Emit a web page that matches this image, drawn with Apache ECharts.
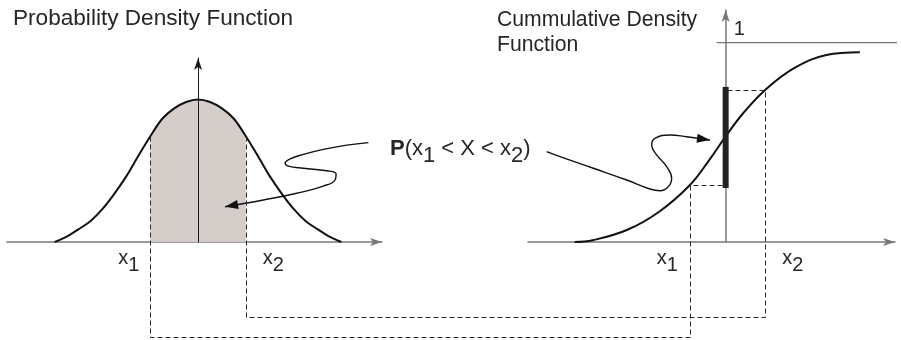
<!DOCTYPE html>
<html><head><meta charset="utf-8">
<script src="https://cdn.jsdelivr.net/npm/echarts@6/dist/echarts.min.js"></script>
<style>html,body{margin:0;padding:0;background:#fff}#c{width:901px;height:340px}</style>
</head><body><div id="c"></div>
<script>
// ---- data ----
// Probability density curve, standardised x units
const pdfX = [-3,-2.75,-2.5,-2.25,-2,-1.75,-1.5,-1.25,-1,-0.75,-0.5,-0.25,0,0.25,0.5,0.75,1,1.25,1.5,1.75,2,2.25,2.5,2.75,3];
const pdfY = [0,0.015,0.036,0.059,0.093,0.136,0.185,0.242,0.297,0.346,0.375,0.393,0.400,0.393,0.375,0.346,0.297,0.242,0.185,0.136,0.093,0.059,0.036,0.015,0];
const pdfBounds = [-1, 1];            // x1, x2 on the PDF
// Cumulative curve
const cdfX = [-3.97,-3.5,-2.6,-1.75,-0.94,-0.4,0,0.46,1.04,1.8,2.65,3.53];
const cdfY = [0,0.009,0.06,0.152,0.286,0.42,0.53,0.646,0.763,0.872,0.938,0.952];
const cdfBounds = [-0.94, 1.04];      // x1, x2 on the CDF
const cdfLimit = 1;
// Curly annotation arrows (in each panel's data units)
const arrowPdfX = [3.565,3.113,2.623,2.204,1.926,1.821,1.890,2.204,2.694,2.889,2.868,2.623,2.066,1.367,0.565];
const arrowPdfY = [0.279,0.272,0.260,0.246,0.233,0.221,0.213,0.207,0.200,0.191,0.174,0.157,0.137,0.118,0.099];
const arrowCdfX = [-4.709,-4.359,-3.483,-2.604,-1.992,-1.728,-1.510,-1.421,-1.552,-1.815,-1.947,-1.860,-1.465,-1.026,-0.413];
const arrowCdfY = [0.453,0.428,0.370,0.311,0.266,0.257,0.277,0.320,0.378,0.437,0.487,0.520,0.537,0.528,0.512];
// Texts
const titlePdf = 'Probability Density Function';
const titleCdf = ['Cummulative Density', 'Function'];
const probText = '{b|P}{n|(x}{s|1}{n| < X < x}{s|2}{n|)}';

// ---- build ----
const FONT = '"Liberation Sans", Arial, Helvetica, sans-serif';
const TXT = '#262626';
const zip = (xs, ys) => xs.map((x, i) => [x, ys[i]]);
const pdfData = zip(pdfX, pdfY);
const shadeData = pdfData.filter(p => p[0] >= pdfBounds[0] && p[0] <= pdfBounds[1]);
const cdfData = zip(cdfX, cdfY);
const pdfAt = x => pdfY[pdfX.indexOf(x)];
const cdfAt = x => cdfY[cdfX.indexOf(x)];

const axisLine = (color, width) => ({
  show: true, onZero: true, symbol: ['none', 'arrow'], symbolSize: [6, 12],
  lineStyle: { color: color, width: width }
});
const bare = { axisTick: { show: false }, axisLabel: { show: false }, splitLine: { show: false } };

const option = {
  animation: false,
  backgroundColor: '#fff',
  grid: [
    { left: 7, top: 58, width: 375, height: 184 },
    { left: 528, top: 10, width: 367, height: 232 }
  ],
  xAxis: [
    Object.assign({ type: 'value', gridIndex: 0, min: -4, max: 3.85, axisLine: axisLine('#777', 1.5) }, bare),
    Object.assign({ type: 'value', gridIndex: 1, min: -5.2, max: 4.455, axisLine: axisLine('#777', 1.5) }, bare)
  ],
  yAxis: [
    Object.assign({ type: 'value', gridIndex: 0, min: 0, max: 0.5165, z: 4, axisLine: axisLine('#1a1a1a', 1) }, bare),
    Object.assign({ type: 'value', gridIndex: 1, min: 0, max: 1.164, axisLine: axisLine('#777', 1.5) }, bare)
  ],
  series: [
    { type: 'line', xAxisIndex: 0, yAxisIndex: 0, data: shadeData, smooth: 0.3, symbol: 'none', z: 1,
      lineStyle: { width: 0 }, areaStyle: { color: '#d4cdca', opacity: 1 } },
    { type: 'line', xAxisIndex: 0, yAxisIndex: 0, data: pdfData, smooth: 0.3, symbol: 'none', z: 5,
      lineStyle: { color: '#111', width: 2 } },
    { type: 'line', xAxisIndex: 1, yAxisIndex: 1, data: cdfData, smooth: 0.4, symbol: 'none', z: 5,
      lineStyle: { color: '#111', width: 2 } },
    { type: 'line', xAxisIndex: 1, yAxisIndex: 1, data: [[-0.237, cdfLimit], [4.62, cdfLimit]], symbol: 'none', clip: false,
      lineStyle: { color: '#777', width: 1.3 } },
    { type: 'line', xAxisIndex: 1, yAxisIndex: 1, data: [[0, cdfAt(cdfBounds[0])], [0, cdfAt(cdfBounds[1])]], symbol: 'none', z: 6,
      lineStyle: { color: '#222', width: 6, cap: 'square' } },
    { type: 'line', xAxisIndex: 0, yAxisIndex: 0, data: zip(arrowPdfX, arrowPdfY), smooth: 0.45, symbol: 'none', clip: false, z: 7,
      lineStyle: { color: '#111', width: 1.4 } },
    { type: 'line', xAxisIndex: 1, yAxisIndex: 1, data: zip(arrowCdfX, arrowCdfY), smooth: 0.45, symbol: 'none', clip: false, z: 7,
      lineStyle: { color: '#111', width: 1.4 } }
  ]
};

const chart = echarts.init(document.getElementById('c'));
chart.setOption(option);

const toA = p => chart.convertToPixel({ gridIndex: 0 }, p);
const toB = p => chart.convertToPixel({ gridIndex: 1 }, p);
const crisp = p => [Math.round(p[0]) + 0.5, Math.round(p[1]) + 0.5];

const lowY1 = 337, lowY2 = 317;
const a1 = toA([pdfBounds[0], pdfAt(pdfBounds[0])]);
const a2 = toA([pdfBounds[1], pdfAt(pdfBounds[1])]);
const b1 = toB([cdfBounds[0], cdfAt(cdfBounds[0])]);
const b2 = toB([cdfBounds[1], cdfAt(cdfBounds[1])]);
const bar1 = toB([0, cdfAt(cdfBounds[0])]);
const bar2 = toB([0, cdfAt(cdfBounds[1])]);

const dashStyle = { stroke: '#2a2a2a', lineWidth: 1, lineDash: [5, 3], fill: null };
const connectors = [
  { type: 'polyline', z: 10, shape: { points: [a1, [a1[0], lowY1], [b1[0], lowY1], b1, bar1].map(crisp) }, style: dashStyle },
  { type: 'polyline', z: 10, shape: { points: [a2, [a2[0], lowY2], [b2[0], lowY2], b2, bar2].map(crisp) }, style: dashStyle }
];

function head(tip, prev) {
  const dx = tip[0] - prev[0], dy = tip[1] - prev[1];
  const len = Math.hypot(dx, dy);
  const ux = dx / len, uy = dy / len;
  const L = 13, W = 4.5;
  const cx = tip[0] - ux * L, cy = tip[1] - uy * L;
  return { type: 'polygon', z: 11, shape: { points: [tip, [cx - uy * W, cy + ux * W], [cx + uy * W, cy - ux * W]] },
    style: { fill: '#111' } };
}
const nA = arrowPdfX.length, nB = arrowCdfX.length;
const heads = [
  head(toA([arrowPdfX[nA - 1], arrowPdfY[nA - 1]]), toA([arrowPdfX[nA - 2], arrowPdfY[nA - 2]])),
  head(toB([arrowCdfX[nB - 1], arrowCdfY[nB - 1]]), toB([arrowCdfX[nB - 2], arrowCdfY[nB - 2]]))
];

const subRich = (size, drop) => ({
  n: { fontSize: size, fontFamily: FONT, fill: TXT, verticalAlign: 'top', lineHeight: size },
  b: { fontSize: size, fontFamily: FONT, fill: TXT, fontWeight: 'bold', verticalAlign: 'top', lineHeight: size },
  s: { fontSize: size, fontFamily: FONT, fill: TXT, verticalAlign: 'top', lineHeight: size, padding: [drop, 0, 0, 0] }
});
const xLabel = (x, idx, align) => ({
  type: 'text', z: 12, x: x, y: 248,
  style: { text: '{n|x}{s|' + idx + '}', rich: subRich(20, 7), align: align, verticalAlign: 'top', fill: TXT, fontFamily: FONT, fontSize: 20 }
});
const plain = (x, y, text, size) => ({
  type: 'text', z: 12, x: x, y: y,
  style: { text: text, fontSize: size, fontFamily: FONT, fill: TXT, align: 'left', verticalAlign: 'middle' }
});
const limitPx = toB([0, cdfLimit]);

const texts = [
  plain(13, 19, titlePdf, 22.6),
  plain(497, 20, titleCdf[0], 21.2),
  plain(497, 45, titleCdf[1], 21.2),
  plain(limitPx[0] + 8, limitPx[1] - 13, '1', 20),
  xLabel(a1[0] - 11, 1, 'right'),
  xLabel(a2[0] + 17, 2, 'left'),
  xLabel(b1[0] - 12, 1, 'right'),
  xLabel(b2[0] + 17, 2, 'left'),
  { type: 'text', z: 12, x: 390, y: 138,
    style: { text: probText, rich: subRich(22, 7), align: 'left', verticalAlign: 'top', fill: TXT, fontFamily: FONT, fontSize: 22 } }
];

chart.setOption({ graphic: connectors.concat(heads, texts) });
</script>
</body></html>
